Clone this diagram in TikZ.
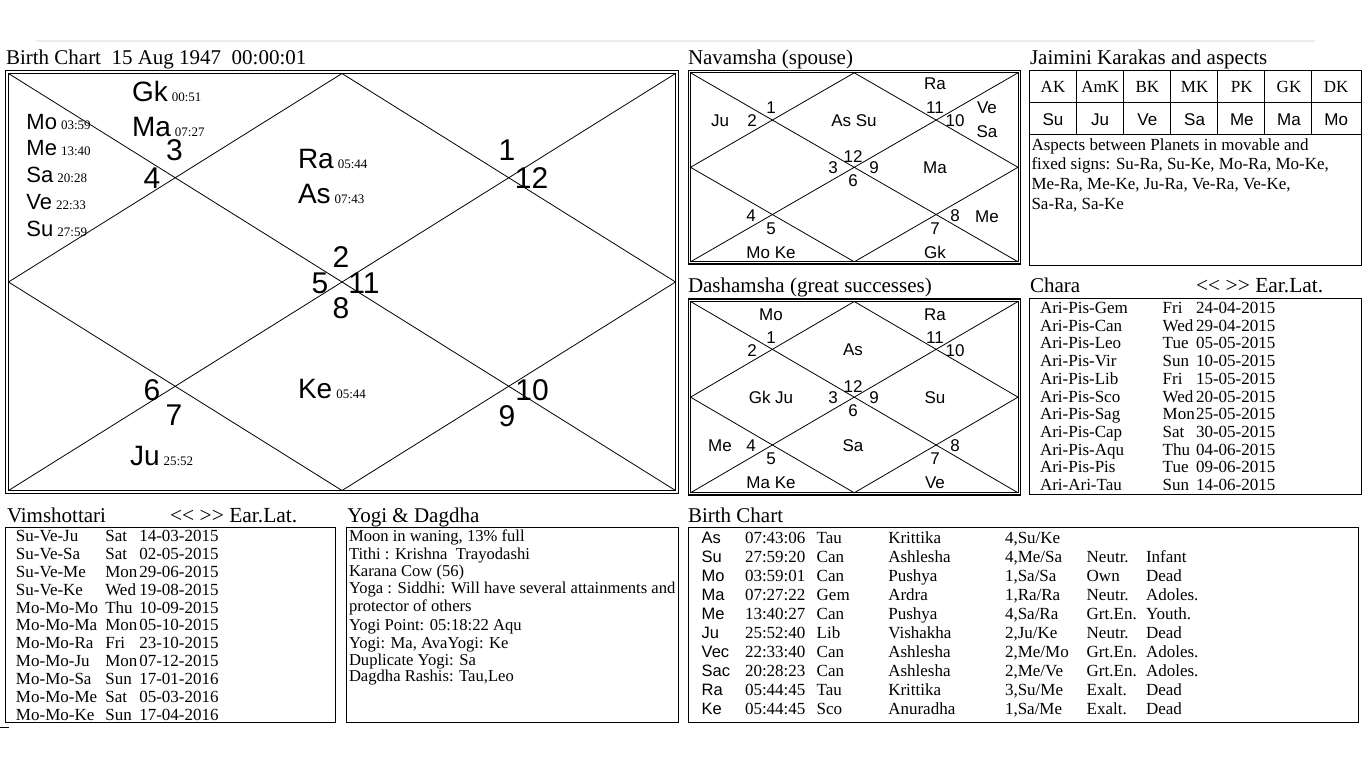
\documentclass[tikz,border=0pt]{standalone}
\usepackage{fontspec}
\setmainfont{Liberation Serif}
\newfontfamily\arialf{Liberation Sans}
\newcommand\fsz[1]{\fontsize{#1}{#1}\selectfont}
\newcommand\dg[1]{\hspace{4pt}{\rmfamily\fsz{13}#1}}
\newcommand\kchart[4]{%
  \draw[thinl] (#1,#2) -- (#3,#4) (#1,#4) -- (#3,#2);
  \draw[thinl] ({(#1+#3)/2},#2) -- (#3,{(#2+#4)/2}) -- ({(#1+#3)/2},#4) -- (#1,{(#2+#4)/2}) -- cycle;}
\newcommand\brow[8]{%
  \node[ar]  (bp#1) at (701.7,{543.3+18.97*#1}) {#2};
  \node[txt] (bd#1) at (745,{543.3+18.97*#1}) {#3};
  \node[txt] (bs#1) at (816.7,{543.3+18.97*#1}) {#4};
  \node[txt] (bn#1) at (888.3,{543.3+18.97*#1}) {#5};
  \node[txt] (bq#1) at (1005,{543.3+18.97*#1}) {#6};
  \node[txt] (bt#1) at (1086.7,{543.3+18.97*#1}) {#7};
  \node[txt] (ba#1) at (1146,{543.3+18.97*#1}) {#8};}
\begin{document}
\begin{tikzpicture}[x=1pt,y=-1pt,
  every node/.style={inner sep=0pt, outer sep=0pt},
  ttl/.style={anchor=base west, font=\fsz{21}},
  ear/.style={anchor=base west, font=\fsz{21.5}},
  txt/.style={anchor=base west, font=\fsz{17}},
  ytxt/.style={anchor=base west, font=\fsz{16.6}},
  ar/.style={anchor=base west, font=\arialf\fsz{16.5}},
  sml/.style={anchor=base, font=\arialf\fsz{17}},
  bignum/.style={anchor=base, font=\arialf\fsz{30}},
  bigpl/.style={anchor=base west, font=\arialf\fsz{28}},
  midpl/.style={anchor=base west, font=\arialf\fsz{22}},
  hdr/.style={anchor=base, font=\fsz{17}},
  box/.style={draw=black, line width=1pt},
  outerl/.style={draw=black, line width=1.4pt},
  thinl/.style={draw=black, line width=0.8pt},
]
\useasboundingbox (0,0) rectangle (1366,768);
\fill[white] (0,0) rectangle (1366,768);
\fill[black!7] (36,40) rectangle (1315,42);
\draw[line width=1pt] (0,727) -- (9,727);

% ---------- Main birth chart ----------
\node[ttl] (t1) at (6,65) {Birth Chart\ \ 15 Aug 1947\ \ 00:00:01};
\draw[outerl] (5.5,70.5) rectangle (678.5,493.5);
\draw[box] (8.5,73.5) rectangle (675.5,490.5);
\kchart{8.5}{73.5}{675.5}{490.5}
\node[bignum] (m3) at (174.5,160) {3};
\node[bignum] (m4) at (152,188) {4};
\node[bignum] (m1) at (507,160.5) {1};
\node[bignum] (m12) at (531.5,188) {12};
\node[bignum] (m2) at (341,267) {2};
\node[bignum] (m5) at (320,293) {5};
\node[bignum] (m11) at (364,293) {11};
\node[bignum] (m8) at (341,318) {8};
\node[bignum] (m6) at (152,400) {6};
\node[bignum] (m7) at (174,425) {7};
\node[bignum] (m10) at (532,400) {10};
\node[bignum] (m9) at (507,426.5) {9};
\node[bigpl] (pGk) at (132,101.7) {Gk\dg{00:51}};
\node[bigpl] (pMa) at (132,136.7) {Ma\dg{07:27}};
\node[midpl] (pMo) at (26.5,129.3) {Mo\dg{03:59}};
\node[midpl] (pMe) at (26.5,155.7) {Me\dg{13:40}};
\node[midpl] (pSa) at (26.5,182.7) {Sa\dg{20:28}};
\node[midpl] (pVe) at (26.5,209.3) {Ve\dg{22:33}};
\node[midpl] (pSu) at (26.5,236) {Su\dg{27:59}};
\node[bigpl] (pRa) at (298,168.3) {Ra\dg{05:44}};
\node[bigpl] (pAs) at (298,203.3) {As\dg{07:43}};
\node[bigpl] (pKe) at (298,398.3) {Ke\dg{05:44}};
\node[bigpl] (pJu) at (130,465) {Ju\dg{25:52}};

% ---------- Navamsha ----------
\node[ttl] (t2) at (688,65) {Navamsha (spouse)};
\draw[outerl] (688.5,70.5) rectangle (1020.5,264);
\draw[box] (690.5,72.8) rectangle (1018,261.8);
\kchart{690.5}{72.8}{1018}{261.8}
\foreach \lab/\xx/\yy [count=\i] in {Ra/935/89.3, 1/771/113.3, 2/752/126, Ju/720/126, As Su/854/126,
  11/935/113.3, 10/955/126, Ve/987/113.3, Sa/987/137.7, 12/853/162.7, 3/833/173.3, 9/874/173.3,
  6/853/186, Ma/935/173.3, 4/751/221.7, 5/771/234, Mo Ke/771/258, 8/955/221.7, 7/935/234,
  Me/987/222, Gk/935/258}{
  \node[sml] (nv\i) at (\xx,\yy) {\lab};
}

% ---------- Dashamsha ----------
\node[ttl] (t3) at (688,292.7) {Dashamsha (great successes)};
\draw[outerl] (688.5,299) rectangle (1020.5,495);
\draw[box] (690.5,301.5) rectangle (1018,492.8);
\kchart{690.5}{301.5}{1018}{492.8}
\foreach \lab/\xx/\yy [count=\i] in {Mo/771/320, Ra/935/320, 1/771/343.3, 11/935/343.3, 2/752/356,
  As/853/355.5, 10/955/356, 12/853/392.7, Gk Ju/771/403.3, 3/833/403.3, 9/874/403.3, Su/935/403.3,
  6/853/416, Me/720/451.7, 4/751/451.7, Sa/853/451.7, 8/955/451.7, 5/771/464, 7/935/464,
  Ma Ke/771/488.3, Ve/935/488.3}{
  \node[sml] (ds\i) at (\xx,\yy) {\lab};
}

% ---------- Jaimini ----------
\node[ttl] (t4) at (1030,64.3) {Jaimini Karakas and aspects};
\draw[box] (1029.5,70.5) rectangle (1361.5,265);
\draw[box] (1029.5,102.5) -- (1361.5,102.5) (1029.5,134.5) -- (1361.5,134.5);
\foreach \xx in {1076.5,1123.5,1170.5,1217.5,1264.5,1311.5}{
  \draw[box] (\xx,70.5) -- (\xx,134.5);
}
\foreach \h/\v [count=\i from 0] in {AK/Su,AmK/Ju,BK/Ve,MK/Sa,PK/Me,GK/Ma,DK/Mo}{
  \node[hdr] (jh\i) at ({1053+47.2*\i},92.3) {\h};
  \node[sml] (jv\i) at ({1053+47.2*\i},125) {\v};
}
\node[txt] (ja1) at (1031.5,150) {Aspects between Planets in movable and};
\node[txt] (ja2) at (1031.5,169.7) {fixed signs: Su-Ra, Su-Ke, Mo-Ra, Mo-Ke,};
\node[txt] (ja3) at (1031.5,189.4) {Me-Ra, Me-Ke, Ju-Ra, Ve-Ra, Ve-Ke,};
\node[txt] (ja4) at (1031.5,209.1) {Sa-Ra, Sa-Ke};

% ---------- Chara ----------
\node[ttl] (t5) at (1030,292.7) {Chara};
\node[ear] (t5b) at (1196,292.7) {<\kern0pt< >\kern0pt> Ear.Lat.};
\draw[box] (1029.5,298.5) rectangle (1361.5,494);
\foreach \nm/\dy/\dt [count=\i from 0] in {Ari-Pis-Gem/Fri/24-04-2015, Ari-Pis-Can/Wed/29-04-2015,
  Ari-Pis-Leo/Tue/05-05-2015, Ari-Pis-Vir/Sun/10-05-2015, Ari-Pis-Lib/Fri/15-05-2015,
  Ari-Pis-Sco/Wed/20-05-2015, Ari-Pis-Sag/Mon/25-05-2015, Ari-Pis-Cap/Sat/30-05-2015,
  Ari-Pis-Aqu/Thu/04-06-2015, Ari-Pis-Pis/Tue/09-06-2015, Ari-Ari-Tau/Sun/14-06-2015}{
  \node[txt] (cn\i) at (1040,{313.3+17.74*\i}) {\nm};
  \node[txt] (cd\i) at (1162.7,{313.3+17.74*\i}) {\dy};
  \node[txt] (ct\i) at (1196,{313.3+17.74*\i}) {\dt};
}

% ---------- Vimshottari ----------
\node[ttl] (t6) at (7,522.7) {Vimshottari};
\node[ear] (t6b) at (170,522.7) {<\kern0pt< >\kern0pt> Ear.Lat.};
\draw[box] (5.5,527.5) rectangle (335,722.5);
\foreach \nm/\dy/\dt [count=\i from 0] in {Su-Ve-Ju/Sat/14-03-2015, Su-Ve-Sa/Sat/02-05-2015,
  Su-Ve-Me/Mon/29-06-2015, Su-Ve-Ke/Wed/19-08-2015, Mo-Mo-Mo/Thu/10-09-2015,
  Mo-Mo-Ma/Mon/05-10-2015, Mo-Mo-Ra/Fri/23-10-2015, Mo-Mo-Ju/Mon/07-12-2015,
  Mo-Mo-Sa/Sun/17-01-2016, Mo-Mo-Me/Sat/05-03-2016, Mo-Mo-Ke/Sun/17-04-2016}{
  \node[txt] (vn\i) at (16,{541.7+17.83*\i}) {\nm};
  \node[txt] (vd\i) at (105.3,{541.7+17.83*\i}) {\dy};
  \node[txt] (vt\i) at (139.3,{541.7+17.83*\i}) {\dt};
}

% ---------- Yogi & Dagdha ----------
\node[ttl] (t7) at (347.3,522.2) {Yogi \& Dagdha};
\draw[box] (346.5,527.5) rectangle (678.5,722.5);
\node[ytxt] (y1) at (349,541.7) {Moon in waning, 13\% full};
\node[ytxt] (y2) at (349,559) {Tithi : Krishna\ \ Trayodashi};
\node[ytxt] (y3) at (349,576) {Karana Cow (56)};
\node[ytxt] (y4) at (349,593.3) {Yoga : Siddhi: Will have several attainments and};
\node[ytxt] (y5) at (349,611.7) {protector of others};
\node[ytxt] (y6) at (349,630.7) {Yogi Point: 05:18:22 Aqu};
\node[ytxt] (y7) at (349,648.3) {Yogi: Ma, AvaYogi: Ke};
\node[ytxt] (y8) at (349,665) {Duplicate Yogi: Sa};
\node[ytxt] (y9) at (349,681.7) {Dagdha Rashis: Tau,Leo};

% ---------- Birth Chart table ----------
\node[ttl] (t8) at (688,522.7) {Birth Chart};
\draw[box] (688.5,527.5) rectangle (1358.5,722.5);
\node[ar]  (bp0) at (701.7,543.3) {As};
\node[txt] (bd0) at (745,543.3) {07:43:06};
\node[txt] (bs0) at (816.7,543.3) {Tau};
\node[txt] (bn0) at (888.3,543.3) {Krittika};
\node[txt] (bq0) at (1005,543.3) {4,Su/Ke};
\brow{1}{Su}{27:59:20}{Can}{Ashlesha}{4,Me/Sa}{Neutr.}{Infant}
\brow{2}{Mo}{03:59:01}{Can}{Pushya}{1,Sa/Sa}{Own}{Dead}
\brow{3}{Ma}{07:27:22}{Gem}{Ardra}{1,Ra/Ra}{Neutr.}{Adoles.}
\brow{4}{Me}{13:40:27}{Can}{Pushya}{4,Sa/Ra}{Grt.En.}{Youth.}
\brow{5}{Ju}{25:52:40}{Lib}{Vishakha}{2,Ju/Ke}{Neutr.}{Dead}
\brow{6}{Vec}{22:33:40}{Can}{Ashlesha}{2,Me/Mo}{Grt.En.}{Adoles.}
\brow{7}{Sac}{20:28:23}{Can}{Ashlesha}{2,Me/Ve}{Grt.En.}{Adoles.}
\brow{8}{Ra}{05:44:45}{Tau}{Krittika}{3,Su/Me}{Exalt.}{Dead}
\brow{9}{Ke}{05:44:45}{Sco}{Anuradha}{1,Sa/Me}{Exalt.}{Dead}
\end{tikzpicture}
\end{document}
